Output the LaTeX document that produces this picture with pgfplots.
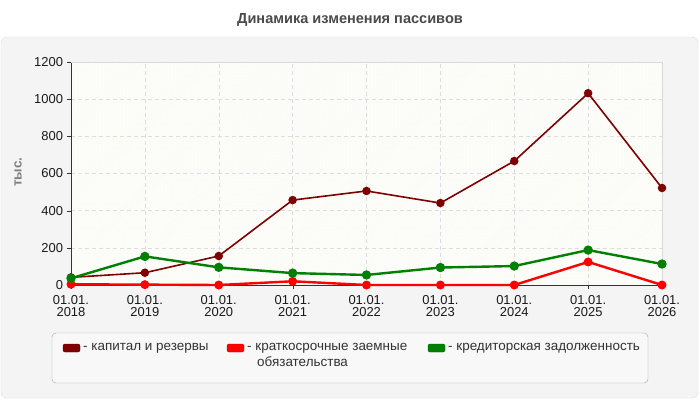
\documentclass[border=0pt]{standalone}
\usepackage{fontspec}
\setmainfont{Liberation Sans}
\usepackage{pgfplots}
\pgfplotsset{compat=1.18}
\usetikzlibrary{patterns}
\definecolor{ccap}{HTML}{800000}
\definecolor{ckz}{HTML}{FF0000}
\definecolor{ckred}{HTML}{008000}
\definecolor{txt}{HTML}{333333}
\definecolor{ttl}{HTML}{4A4A4A}
\definecolor{panel}{HTML}{F4F4F4}
\definecolor{pborder}{HTML}{DDDDDD}
\definecolor{plotbg}{HTML}{FDFDF8}
\definecolor{gridc}{HTML}{DDDDDD}
\definecolor{legbg}{HTML}{F8F8F8}
\begin{document}
\begin{tikzpicture}[x=1bp,y=1bp]
\useasboundingbox (0,0) rectangle (700,400);
\fill[white] (0,0) rectangle (700,400);
\draw[pborder, fill=panel, rounded corners=6bp] (1,2) rectangle (698,363);
\node[font=\bfseries\fontsize{14.6}{16}\selectfont, text=ttl] at (350,380) {Динамика изменения пассивов};
\node[rotate=90, font=\bfseries\fontsize{13.5}{15}\selectfont, text=gray] at (18,228) {тыс.};
\begin{axis}[at={(71bp,115bp)}, anchor=south west, scale only axis,
  width=591bp, height=223bp,
  xmin=0, xmax=8, ymin=0, ymax=1200,
  axis lines=left, axis line style={-, draw=txt},
  xtick={0,...,8},
  xticklabels={{01.01.\\2018},{01.01.\\2019},{01.01.\\2020},{01.01.\\2021},{01.01.\\2022},{01.01.\\2023},{01.01.\\2024},{01.01.\\2025},{01.01.\\2026}},
  ytick={0,200,...,1200},
  tick align=outside, major tick length=4bp, tick style={draw=txt},
  grid=major, grid style={dash pattern=on 4bp off 3bp, gridc},
  clip=false,
  axis background/.style={fill=plotbg, postaction={pattern=north east lines, pattern color=black!2}},
  ticklabel style={font=\fontsize{13}{12.5}\selectfont, text=black!90},
  xticklabel style={align=center, yshift=-2.5bp},
  /pgf/number format/assume math mode=true,
  /pgf/number format/1000 sep={},
  yticklabel style={xshift=-0.5bp},
]
\draw[black!15] (rel axis cs:0,1) -- (rel axis cs:1,1) -- (rel axis cs:1,0);
\addplot[ccap, line width=1.6bp, mark=*, mark size=3.4bp, mark options={fill=ccap}] coordinates {
(0,41) (1,66) (2,156) (3,457) (4,506) (5,441) (6,667) (7,1032) (8,522)};
\addplot[ckz, line width=2.4bp, mark=*, mark size=3.2bp, mark options={fill=ckz}] coordinates {
(0,4) (1,2) (2,0) (3,20) (4,0) (5,0) (6,0) (7,124) (8,0)};
\addplot[ckred, line width=2.4bp, mark=*, mark size=3.4bp, mark options={fill=ckred}] coordinates {
(0,36) (1,154) (2,95) (3,64) (4,54) (5,94) (6,102) (7,188) (8,113)};
\end{axis}
\draw[black!35, fill=legbg, rounded corners=4bp] (52,17) rectangle (648,67);
\tikzset{lt/.style={anchor=west, inner sep=0pt, font=\fontsize{13.5}{15}\selectfont, text=txt}}
\draw[ccap!70!black, fill=ccap, rounded corners=2bp] (63,48) rectangle (80,56);
\node[lt] at (83,52) {- капитал и резервы};
\draw[ckz!80!black, fill=ckz, rounded corners=2bp] (227,48) rectangle (244,56);
\node[lt] at (247,52) {- краткосрочные заемные};
\node[lt] at (257,38) {обязательства};
\draw[ckred!70!black, fill=ckred, rounded corners=2bp] (428,48) rectangle (445,56);
\node[lt] at (448,52) {- кредиторская задолженность};
\end{tikzpicture}
\end{document}
